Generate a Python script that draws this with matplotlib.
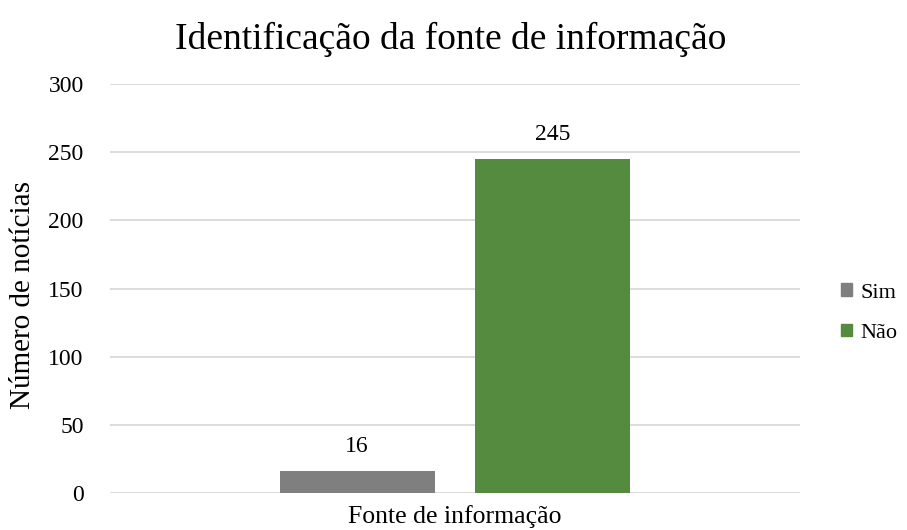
import matplotlib.pyplot as plt
from matplotlib.patches import Patch

categories = ["Fonte de informação"]
series_names = ["Sim", "Não"]
values = [16, 245]
colors = ["#7f7f7f", "#548b3f"]
yticks = [0, 50, 100, 150, 200, 250, 300]

plt.rcParams['font.family'] = ['Liberation Serif', 'DejaVu Serif']

fig = plt.figure(figsize=(9.07, 5.30), dpi=100)
ax = fig.add_axes([0.1213, 0.0698, 0.7607, 0.7717])

width = 0.2246
offsets = [-0.142, 0.142]
for name, v, c, off in zip(series_names, values, colors, offsets):
    ax.bar(0 + off, v, width=width, color=c, label=name, zorder=3)
    ax.annotate(str(v), (0 + off, v), xytext=(0, 17.5), textcoords='offset points',
                ha='center', va='center', fontsize=17, color='#000000')

ax.set_xlim(-0.5, 0.5)
ax.set_ylim(0, 300)
ax.set_yticks(yticks)
ax.set_yticklabels([str(t) for t in yticks], fontsize=17)
ax.set_xticks([0])
ax.set_xticklabels(categories, fontsize=18.5)
ax.tick_params(axis='y', length=0, pad=19)
ax.tick_params(axis='x', length=0, pad=9)
ax.grid(axis='y', color='#d9d9d9', linewidth=1.3, zorder=0)
for s in ax.spines.values():
    s.set_visible(False)
ax.set_ylabel("Número de notícias", fontsize=21)
ax.yaxis.set_label_coords(-0.108, 0.485)

fig.text(0.497, 0.925, "Identificação da fonte de informação", fontsize=27,
         ha='center', va='center')

handles = [Patch(color=c, label=n) for n, c in zip(series_names, colors)]
fig.legend(handles=handles, loc='center left', bbox_to_anchor=(0.927, 0.409),
           frameon=False, fontsize=16, handlelength=0.5, handleheight=0.5,
           handletextpad=0.4, labelspacing=0.95, borderpad=0, borderaxespad=0)

fig.savefig("out.png", dpi=100)
